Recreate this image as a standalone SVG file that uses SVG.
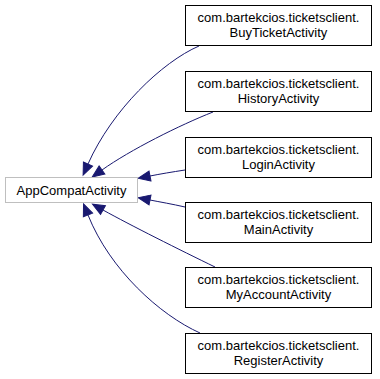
<svg xmlns="http://www.w3.org/2000/svg" width="380" height="379" viewBox="0 0 380 379">
  <style>
    .box { fill: #ffffff; stroke: #000000; stroke-width: 1; }
    .base { fill: #ffffff; stroke: #bfbfbf; stroke-width: 1; }
    .lbl { font-family: "Liberation Sans", Arial, sans-serif; font-size: 13px; fill: #000000; text-anchor: middle; }
    .edge { fill: none; stroke: #191970; stroke-width: 1; marker-end: url(#head); }
  </style>
  <defs>
    <marker id="head" markerUnits="userSpaceOnUse" markerWidth="12" markerHeight="10" refX="0" refY="5" orient="auto" overflow="visible">
      <path d="M0,0 L12,5 L0,10 Z" fill="#191970" stroke="#191970" stroke-width="1"/>
    </marker>
  </defs>
  <rect width="380" height="379" fill="#ffffff"/>

  <g id="connectors">
    <path class="edge" d="M199,46 C162,62 112,110 88,164"/>
    <path class="edge" d="M213,112 C180,125 130,150 102,170"/>
    <path class="edge" d="M185,170 C172,172 160,174 150,176"/>
    <path class="edge" d="M185,207 C172,204 160,202 150,200"/>
    <path class="edge" d="M215,267 C180,250 130,225 103,210"/>
    <path class="edge" d="M200,333 C160,315 110,270 88,215"/>
  </g>

  <g id="AppCompatActivity">
    <rect class="base" x="5.5" y="177.5" width="132" height="25"/>
    <text class="lbl" x="71.5" y="194.5">AppCompatActivity</text>
  </g>

  <g id="BuyTicketActivity">
    <rect class="box" x="185.5" y="5.5" width="186" height="40"/>
    <text class="lbl" x="278.5" y="22">com.bartekcios.ticketsclient.</text>
    <text class="lbl" x="278.5" y="37">BuyTicketActivity</text>
  </g>

  <g id="HistoryActivity">
    <rect class="box" x="185.5" y="71.5" width="186" height="40"/>
    <text class="lbl" x="278.5" y="88">com.bartekcios.ticketsclient.</text>
    <text class="lbl" x="278.5" y="103">HistoryActivity</text>
  </g>

  <g id="LoginActivity">
    <rect class="box" x="185.5" y="137.5" width="186" height="40"/>
    <text class="lbl" x="278.5" y="154">com.bartekcios.ticketsclient.</text>
    <text class="lbl" x="278.5" y="169">LoginActivity</text>
  </g>

  <g id="MainActivity">
    <rect class="box" x="185.5" y="202.5" width="186" height="40"/>
    <text class="lbl" x="278.5" y="219">com.bartekcios.ticketsclient.</text>
    <text class="lbl" x="278.5" y="234">MainActivity</text>
  </g>

  <g id="MyAccountActivity">
    <rect class="box" x="185.5" y="267.5" width="186" height="40"/>
    <text class="lbl" x="278.5" y="284">com.bartekcios.ticketsclient.</text>
    <text class="lbl" x="278.5" y="299">MyAccountActivity</text>
  </g>

  <g id="RegisterActivity">
    <rect class="box" x="185.5" y="333.5" width="186" height="40"/>
    <text class="lbl" x="278.5" y="350">com.bartekcios.ticketsclient.</text>
    <text class="lbl" x="278.5" y="365">RegisterActivity</text>
  </g>
</svg>
